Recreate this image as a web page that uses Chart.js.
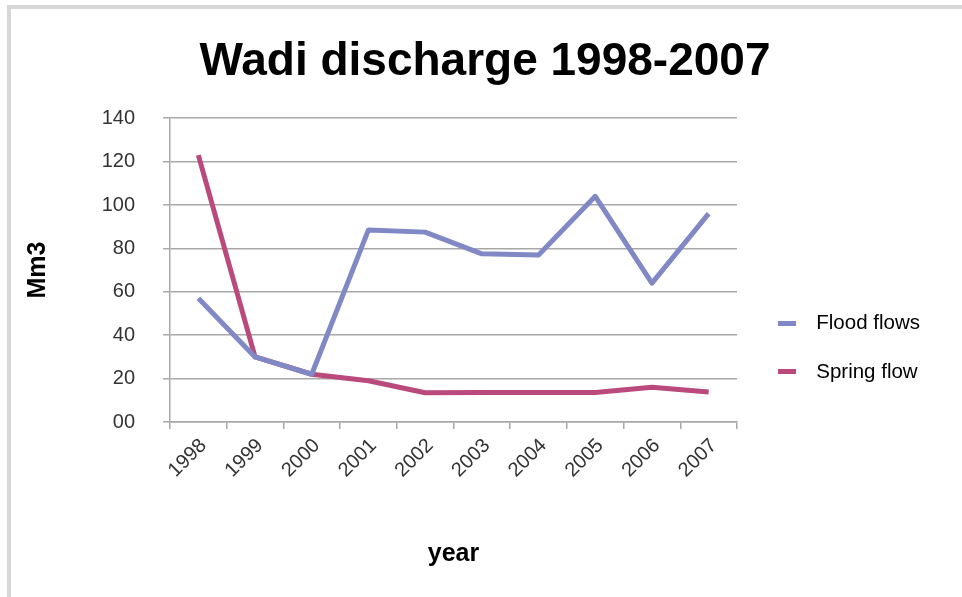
<!DOCTYPE html>
<html>
<head>
<meta charset="utf-8">
<script src="https://cdn.jsdelivr.net/npm/chart.js@4/dist/chart.umd.min.js"></script>
<style>
  html, body { margin: 0; padding: 0; background: #fff; }
  #wrap { position: relative; width: 962px; height: 597px; overflow: hidden; }
  #frame { position: absolute; left: 7px; top: 5px; right: -10px; bottom: -10px;
           border-left: 4px solid #d6d6d6; border-top: 4px solid #d6d6d6; }
  canvas { position: absolute; left: 0; top: 0; }
</style>
</head>
<body>
<div id="wrap">
  <div id="frame"></div>
  <canvas id="c" width="962" height="597"></canvas>
</div>
<script>
const years = ['1998','1999','2000','2001','2002','2003','2004','2005','2006','2007'];
const floodFlows = [57, 30, 22, 88.5, 87.5, 77.5, 77, 104, 64, 96];
const springFlow = [123, 30, 22, 19, 13.5, 13.6, 13.6, 13.6, 16, 13.8];
const yTickLabels = ['00','20','40','60','80','100','120','140'];
const seriesColors = ['#8088c6', '#ba4a7c'];

const FONT = "'Liberation Sans', Arial, sans-serif";
const GRID = '#a8a8a8';

function legendLine(color) {
  const cv = document.createElement('canvas');
  cv.width = 28; cv.height = 5;
  const g = cv.getContext('2d');
  g.fillStyle = color;
  g.fillRect(0, 0, 18, 5);
  return cv;
}

const legendPlacer = {
  id: 'legendPlacer',
  beforeLayout(chart) {
    const lg = chart.legend;
    if (lg && !lg._patched) {
      const orig = lg.fit.bind(lg);
      lg.fit = function () { orig(); this.width = 225; };
      lg._patched = true;
    }
  },
  afterLayout(chart) {
    const lg = chart.legend, ca = chart.chartArea;
    const pad = lg.options.labels.padding;
    const w = lg.width, h = lg.height;
    lg.left = ca.right + 41 - pad; lg.right = lg.left + w;
    lg.top = ca.top + 195 - pad; lg.bottom = lg.top + h;
  }
};

new Chart(document.getElementById('c'), {
  type: 'line',
  data: {
    labels: years,
    datasets: [
      { label: 'Flood flows', data: floodFlows, borderColor: seriesColors[0], backgroundColor: seriesColors[0],
        borderWidth: 5, pointRadius: 0, tension: 0, borderJoinStyle: 'round', borderCapStyle: 'butt' },
      { label: 'Spring flow', data: springFlow, borderColor: seriesColors[1], backgroundColor: seriesColors[1],
        borderWidth: 5, pointRadius: 0, tension: 0, borderJoinStyle: 'round', borderCapStyle: 'butt' }
    ]
  },
  options: {
    responsive: false,
    animation: false,
    layout: { padding: { left: 8, top: 8, right: 0, bottom: 0 } },
    plugins: {
      title: {
        display: true, text: 'Wadi discharge 1998-2007', color: '#000',
        font: { family: FONT, size: 46, weight: 'bold' },
        padding: { top: 27, bottom: 28 }
      },
      legend: {
        position: 'right', align: 'start',
        labels: {
          color: '#000', font: { family: FONT, size: 20.5 }, padding: 28,
          usePointStyle: true, pointStyleWidth: 28, boxHeight: 5,
          generateLabels(chart) {
            const items = Chart.defaults.plugins.legend.labels.generateLabels(chart);
            items.forEach((it, i) => { it.pointStyle = legendLine(seriesColors[i]); it.lineWidth = 0; });
            return items;
          }
        }
      },
      tooltip: { enabled: false }
    },
    scales: {
      x: {
        offset: true,
        afterFit(s) { s.height = 175; },
        grid: { display: true, offset: true, drawOnChartArea: false, drawTicks: true, tickLength: 7, color: GRID, lineWidth: 1.5 },
        border: { display: true, color: GRID, width: 1.5 },
        ticks: { color: '#333', font: { family: FONT, size: 20 }, minRotation: 45, maxRotation: 45, padding: 5, labelOffset: 5 },
        title: { display: true, text: 'year', color: '#000', font: { family: FONT, size: 25, weight: 'bold' }, padding: { top: 0, bottom: 28 } }
      },
      y: {
        min: 0, max: 140,
        afterFit(s) { s.width = 162; },
        grid: { color: GRID, lineWidth: 1.5, drawTicks: true, tickLength: 7 },
        border: { display: true, color: GRID, width: 1.5 },
        ticks: { stepSize: 20, color: '#333', font: { family: FONT, size: 20 }, padding: 28,
                 callback: (v, i) => yTickLabels[i] },
        title: { display: true, text: 'Mm3', color: '#000', font: { family: FONT, size: 25, weight: 'bold' }, padding: { top: 15, bottom: 0 } }
      }
    }
  },
  plugins: [legendPlacer]
});
</script>
</body>
</html>
